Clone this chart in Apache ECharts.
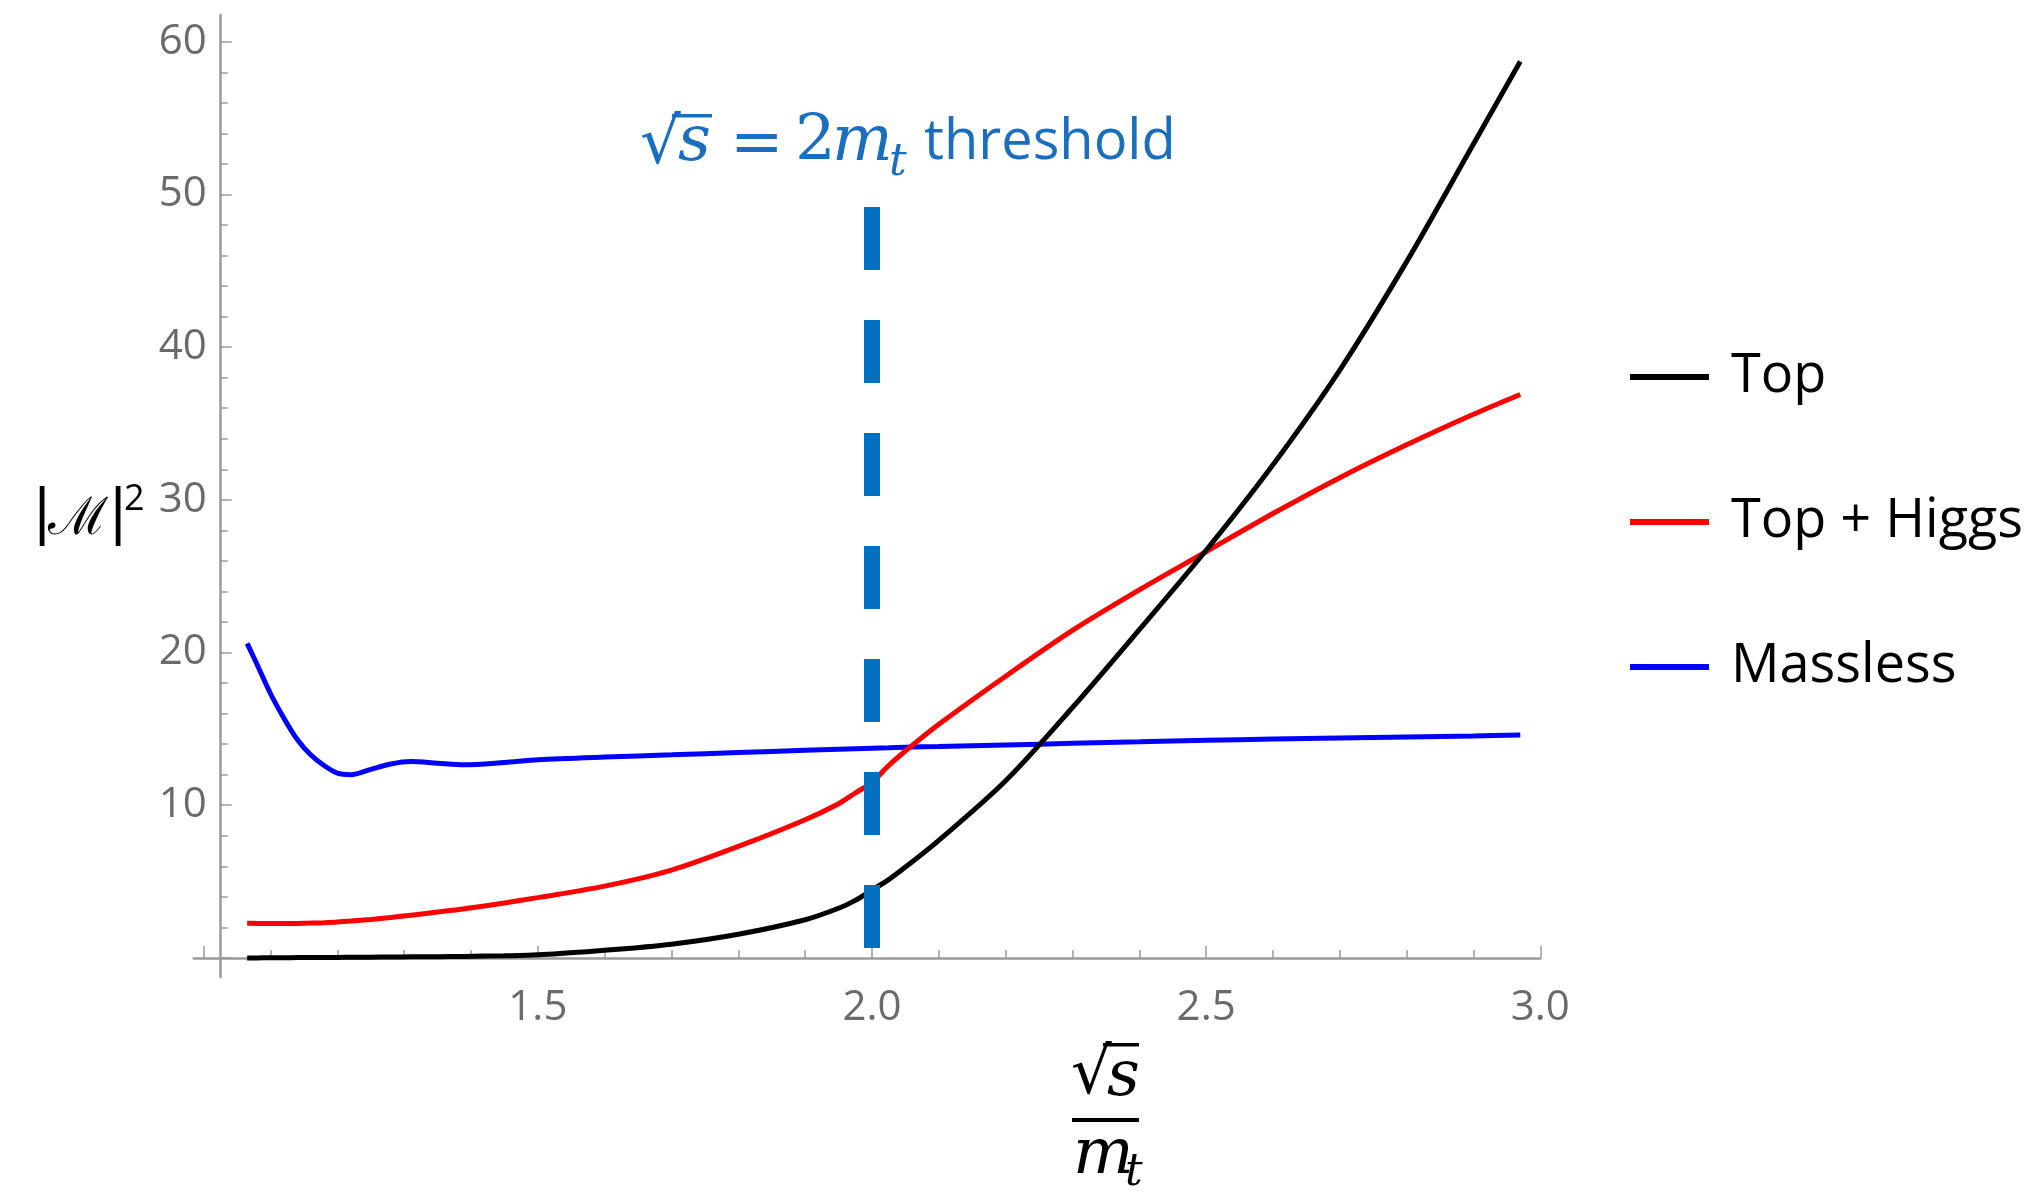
<!DOCTYPE html>
<html><head><meta charset="utf-8">
<script src="https://cdn.jsdelivr.net/npm/echarts@6/dist/echarts.min.js"></script>
<style>html,body{margin:0;padding:0;background:#fff}#c{width:2041px;height:1193px}</style>
</head><body><div id="c"></div>
<script>
// ---- data ----
const xValues        = [1.065, 1.08, 1.10, 1.12, 1.14, 1.16, 1.18, 1.20, 1.22, 1.25, 1.28, 1.31, 1.35, 1.39, 1.45, 1.50, 1.60, 1.70, 1.80, 1.90, 1.95, 1.975, 2.00, 2.025, 2.05, 2.10, 2.20, 2.30, 2.40, 2.50, 2.60, 2.70, 2.80, 2.90, 2.97];
const topValues      = [0.0, 0.0, 0.01, 0.01, 0.02, 0.02, 0.03, 0.03, 0.04, 0.05, 0.06, 0.07, 0.08, 0.10, 0.14, 0.20, 0.50, 0.90, 1.55, 2.50, 3.25, 3.77, 4.45, 5.13, 5.95, 7.70, 11.6, 16.4, 21.5, 26.7, 32.3, 38.5, 45.6, 53.3, 58.7];
const topHiggsValues = [2.27, 2.26, 2.25, 2.25, 2.26, 2.28, 2.31, 2.35, 2.41, 2.52, 2.65, 2.80, 3.00, 3.22, 3.60, 3.95, 4.70, 5.75, 7.30, 9.05, 10.1, 10.8, 11.5, 12.6, 13.55, 15.3, 18.45, 21.45, 24.1, 26.6, 29.1, 31.45, 33.6, 35.6, 36.9];
const masslessValues = [20.6, 19.2, 17.3, 15.7, 14.3, 13.3, 12.6, 12.1, 12.0, 12.35, 12.7, 12.86, 12.75, 12.65, 12.8, 12.97, 13.15, 13.3, 13.45, 13.6, 13.67, 13.7, 13.73, 13.76, 13.8, 13.85, 13.95, 14.05, 14.15, 14.25, 14.33, 14.4, 14.47, 14.54, 14.6];
const seriesNames    = ['Top', 'Top + Higgs', 'Massless'];
const seriesColors   = ['#000000', '#ff0000', '#0000ff'];

const xMajorTicks = [1.0, 1.5, 2.0, 2.5, 3.0];
const xMinorTicks = [1.1, 1.2, 1.3, 1.4, 1.6, 1.7, 1.8, 1.9, 2.1, 2.2, 2.3, 2.4, 2.6, 2.7, 2.8, 2.9];
const xTickLabels = [1.5, 2.0, 2.5, 3.0];
const yMajorTicks = [0, 10, 20, 30, 40, 50, 60];
const yMinorTicks = [2, 4, 6, 8, 12, 14, 16, 18, 22, 24, 26, 28, 32, 34, 36, 38, 42, 44, 46, 48, 52, 54, 56, 58];
const yTickLabels = [10, 20, 30, 40, 50, 60];
const xRange = [0.985, 3.0];
const yRange = [-1.25, 61.75];
const thresholdX = 2.0;
const thresholdSpan = [0.65, 49.18];

// ---- chart ----
const chart = echarts.init(document.getElementById('c'));
const pairs = vals => xValues.map((x, i) => [x, vals[i]]);
const allValues = [topValues, topHiggsValues, masslessValues];

const axisGray = '#9a9a9a';
const labelFont = { color: '#6a6a6a', fontSize: 42, fontFamily: '"Open Sans"' };
const mathFont = '"DejaVu Serif"';
const blueText = '#1a6ec0';

function xAxisDef(major) {
  return {
    type: 'value', min: xRange[0], max: xRange[1], position: 'bottom',
    axisLine: { show: major, onZero: true, onZeroAxisIndex: 0, lineStyle: { color: axisGray, width: 2.5 } },
    axisTick: { show: true, inside: true, length: major ? 12 : 8, customValues: major ? xMajorTicks : xMinorTicks,
                lineStyle: { color: axisGray, width: 1.5 } },
    axisLabel: { show: major, customValues: xTickLabels, formatter: v => Number(v).toFixed(1), margin: 10, ...labelFont },
    splitLine: { show: false }
  };
}
function yAxisDef(major) {
  return {
    type: 'value', min: yRange[0], max: yRange[1], position: 'left', offset: -27,
    axisLine: { show: major, onZero: false, lineStyle: { color: axisGray, width: 2.5 } },
    axisTick: { show: true, inside: true, length: major ? 11 : 7, customValues: major ? yMajorTicks : yMinorTicks,
                lineStyle: { color: axisGray, width: 1.5 } },
    axisLabel: { show: major, customValues: yTickLabels, margin: 14, ...labelFont },
    splitLine: { show: false }
  };
}

const series = seriesNames.map((name, i) => ({
  name, type: 'line', data: pairs(allValues[i]), xAxisIndex: 0, yAxisIndex: 0,
  showSymbol: false, symbol: 'none', smooth: 0.3,
  lineStyle: { color: seriesColors[i], width: 5 }, itemStyle: { color: seriesColors[i] },
  z: 3 - i
}));
series[0].markLine = {
  silent: true, symbol: 'none', label: { show: false }, z: 10,
  lineStyle: { color: '#0070c0', width: 16, type: [63, 50], cap: 'butt' },
  data: [[{ coord: [thresholdX, thresholdSpan[0]] }, { coord: [thresholdX, thresholdSpan[1]] }]]
};

const T = (text, x, y, font, fill, extra) => ({ type: 'text', x, y, silent: true,
  style: Object.assign({ text, font, fill, textAlign: 'left', textVerticalAlign: 'middle' }, extra || {}) });

chart.setOption({
  animation: false,
  backgroundColor: '#ffffff',
  grid: { left: 193.7, right: 500.7, top: 15, bottom: 216, outerBoundsMode: 'none', containLabel: false },
  xAxis: [xAxisDef(true), xAxisDef(false)],
  yAxis: [yAxisDef(true), yAxisDef(false)],
  legend: {
    orient: 'vertical', left: 1625, top: 340, itemWidth: 79, itemHeight: 6, itemGap: 81, icon: 'rect',
    selectedMode: false,
    textStyle: { color: '#000', fontSize: 54, fontFamily: '"Open Sans"', lineHeight: 64, padding: [0, 0, 0, 17] },
    data: seriesNames
  },
  series,
  graphic: [
    // threshold annotation
    T('\u221A', 640, 146, '64px ' + mathFont, blueText),
    { type: 'rect', silent: true, shape: { x: 672, y: 114, width: 40, height: 3.5 }, style: { fill: blueText } },
    T('s', 678, 143, 'italic 64px ' + mathFont, blueText),
    T('=', 730, 146, '64px ' + mathFont, blueText),
    T('2', 795, 143, '64px ' + mathFont, blueText),
    T('m', 832, 143, 'italic 64px ' + mathFont, blueText),
    T('t', 889, 164, 'italic 44px ' + mathFont, blueText),
    T('threshold', 924, 143, '56px "Open Sans"', blueText),
    // x-axis name: sqrt(s) / m_t
    T('\u221A', 1071, 1076, '64px ' + mathFont, '#000'),
    { type: 'rect', silent: true, shape: { x: 1103, y: 1043, width: 36, height: 3.5 }, style: { fill: '#000' } },
    T('s', 1107, 1078, 'italic 64px ' + mathFont, '#000'),
    { type: 'rect', silent: true, shape: { x: 1072, y: 1118, width: 67, height: 4 }, style: { fill: '#000' } },
    T('m', 1073, 1156, 'italic 64px ' + mathFont, '#000'),
    T('t', 1125, 1174, 'italic 44px ' + mathFont, '#000'),
    // y-axis name |M|^2
    T('|', 32, 516, '60px ' + mathFont, '#000'),
    T('\u2133', 48, 520, '52px ' + mathFont, '#000'),
    T('|', 108, 516, '60px ' + mathFont, '#000'),
    T('2', 124, 500, '36px "Open Sans"', '#000')
  ]
});
</script></body></html>
